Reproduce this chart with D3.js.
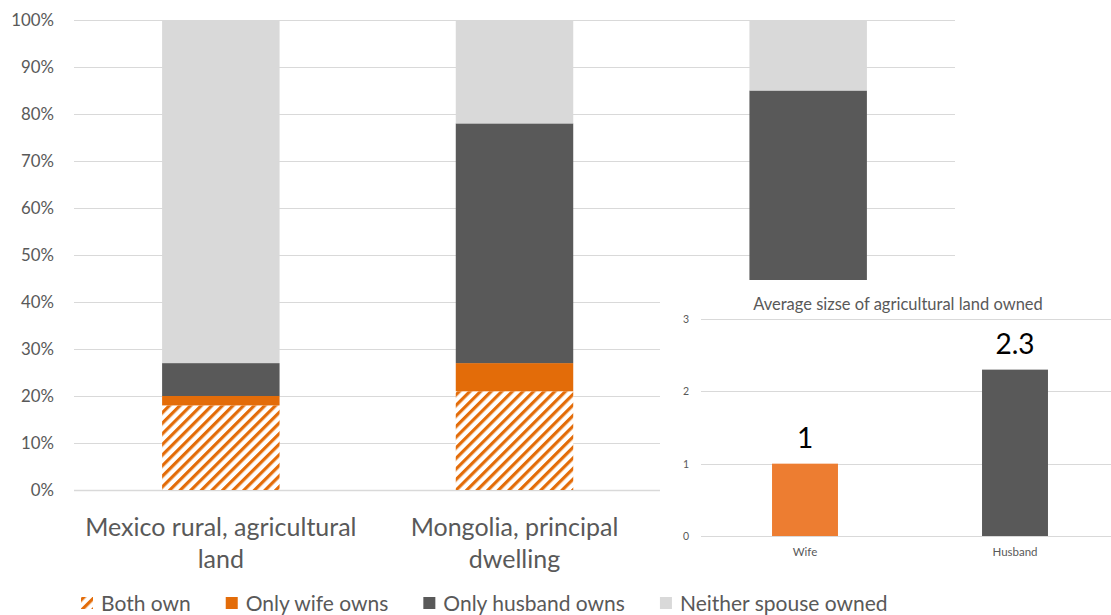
<!DOCTYPE html>
<html>
<head>
<meta charset="utf-8">
<script src="https://cdn.jsdelivr.net/npm/d3@7"></script>
<style>
  html, body { margin: 0; padding: 0; background: #fff; }
  svg { display: block; font-family: Lato, "Open Sans", sans-serif; }
</style>
</head>
<body>
<svg id="chart" width="1111" height="615"></svg>
<script>
// ---- Main chart data (share of couples, %) ----
const categories = [["Mexico rural, agricultural", "land"], ["Mongolia, principal", "dwelling"], [""]];
const seriesNames = ["Both own", "Only wife owns", "Only husband owns", "Neither spouse owned"];
const bothOwn      = [18, 21, 12];
const onlyWife     = [2, 6, 6];
const onlyHusband  = [7, 51, 67];
const neither      = [73, 22, 15];
const yTicks = [0, 10, 20, 30, 40, 50, 60, 70, 80, 90, 100];

// ---- Inset chart data ----
const insetTitle = "Average sizse of agricultural land owned";
const insetCategories = ["Wife", "Husband"];
const insetValues = [1, 2.3];
const insetTicks = [0, 1, 2, 3];

const svg = d3.select("#chart");
const textColor = "#595959";
const gridColor = "#D9D9D9";
const seriesColors = ["url(#hatch)", "#E36C09", "#595959", "#D9D9D9"];

// hatch pattern
const defs = svg.append("defs");
const pat = defs.append("pattern")
  .attr("id", "hatch").attr("patternUnits", "userSpaceOnUse")
  .attr("width", 7.5).attr("height", 7.5)
  .attr("patternTransform", "rotate(45)");
pat.append("rect").attr("width", 7.5).attr("height", 7.5).attr("fill", "#fff");
pat.append("rect").attr("x", 0).attr("width", 3.2).attr("height", 7.5).attr("fill", "#E36C09");

// ---- Main scales ----
const x = d3.scaleBand().domain(d3.range(categories.length))
  .range([74, 955]).paddingInner(0.6).paddingOuter(0.3);
const y = d3.scaleLinear().domain([0, 100]).range([490, 20]);

// gridlines
svg.append("g").selectAll("line").data(yTicks).join("line")
  .attr("x1", 74).attr("x2", 955)
  .attr("y1", d => Math.round(y(d)) + 0.5).attr("y2", d => Math.round(y(d)) + 0.5)
  .attr("stroke", gridColor).attr("stroke-width", d => d === 0 ? 1.5 : 1);

// y axis labels
const yAxis = d3.axisLeft(y).tickValues(yTicks).tickFormat(d => d + "%").tickSize(0).tickPadding(0);
const ya = svg.append("g").attr("transform", "translate(54,0)").call(yAxis);
ya.select(".domain").remove();
ya.selectAll("text").attr("fill", textColor).style("font-size", "16.8px").style("font-family", "Lato");

// stacked bars
const rows = categories.map((c, i) => ({ i, s0: bothOwn[i], s1: onlyWife[i], s2: onlyHusband[i], s3: neither[i] }));
const stack = d3.stack().keys(["s0", "s1", "s2", "s3"]);
const stacked = stack(rows);
svg.append("g").selectAll("g").data(stacked).join("g")
  .attr("fill", (d, k) => seriesColors[k])
  .selectAll("rect").data(d => d).join("rect")
  .attr("x", d => x(d.data.i))
  .attr("width", x.bandwidth())
  .attr("y", d => y(d[1]))
  .attr("height", d => y(d[0]) - y(d[1]));

// category labels
const catG = svg.append("g").selectAll("text").data(categories).join("text")
  .attr("x", (d, i) => x(i) + x.bandwidth() / 2)
  .attr("y", 536)
  .attr("text-anchor", "middle")
  .attr("fill", textColor)
  .style("font-size", "25px");
catG.selectAll("tspan").data(d => d.filter(s => s !== "")).join("tspan")
  .attr("x", function () { return d3.select(this.parentNode).attr("x"); })
  .attr("dy", (d, j) => j === 0 ? 0 : 32)
  .text(d => d);

// ---- Inset chart ----
const inset = svg.append("g");
inset.append("rect").attr("x", 660).attr("y", 280).attr("width", 451).attr("height", 285).attr("fill", "#fff");

const xi = d3.scaleBand().domain(insetCategories).range([700, 1120]).paddingInner(0.686).paddingOuter(0.343);
const yi = d3.scaleLinear().domain([0, 3]).range([536, 319]);

inset.append("text").attr("x", 898).attr("y", 310).attr("text-anchor", "middle")
  .attr("fill", textColor).style("font-size", "16.5px").text(insetTitle);

inset.append("g").selectAll("line").data(insetTicks).join("line")
  .attr("x1", 701).attr("x2", 1111)
  .attr("y1", d => Math.round(yi(d)) + 0.5).attr("y2", d => Math.round(yi(d)) + 0.5)
  .attr("stroke", gridColor).attr("stroke-width", 1);

const yiAxis = d3.axisLeft(yi).tickValues(insetTicks).tickFormat(d3.format("d")).tickSize(0).tickPadding(0);
const yia = inset.append("g").attr("transform", "translate(689,0)").call(yiAxis);
yia.select(".domain").remove();
yia.selectAll("text").attr("fill", textColor).style("font-size", "10.5px").style("font-family", "Lato");

inset.append("g").selectAll("rect").data(insetValues).join("rect")
  .attr("x", (d, i) => xi(insetCategories[i]))
  .attr("width", xi.bandwidth())
  .attr("y", d => yi(d))
  .attr("height", d => yi(0) - yi(d))
  .attr("fill", (d, i) => i === 0 ? "#ED7D31" : "#595959");

inset.append("g").selectAll("text").data(insetValues).join("text")
  .attr("x", (d, i) => xi(insetCategories[i]) + xi.bandwidth() / 2)
  .attr("y", d => yi(d) - 16)
  .attr("text-anchor", "middle")
  .attr("fill", "#000")
  .style("font-size", "28px")
  .text(d => d);

inset.append("g").selectAll("text").data(insetCategories).join("text")
  .attr("x", d => xi(d) + xi.bandwidth() / 2)
  .attr("y", 556)
  .attr("text-anchor", "middle")
  .attr("fill", textColor)
  .style("font-size", "11.5px")
  .text(d => d);

// ---- Legend ----
const legend = svg.append("g");
let lx = 81;
seriesNames.forEach((name, k) => {
  const g = legend.append("g");
  g.append("rect").attr("x", lx).attr("y", 597).attr("width", 12).attr("height", 12)
    .attr("fill", seriesColors[k]);
  const t = g.append("text").attr("x", lx + 20).attr("y", 610.5)
    .attr("fill", textColor).style("font-size", "21px").text(name);
  const w = t.node().getComputedTextLength();
  lx = lx + 20 + w + 35;
});
</script>
</body>
</html>
